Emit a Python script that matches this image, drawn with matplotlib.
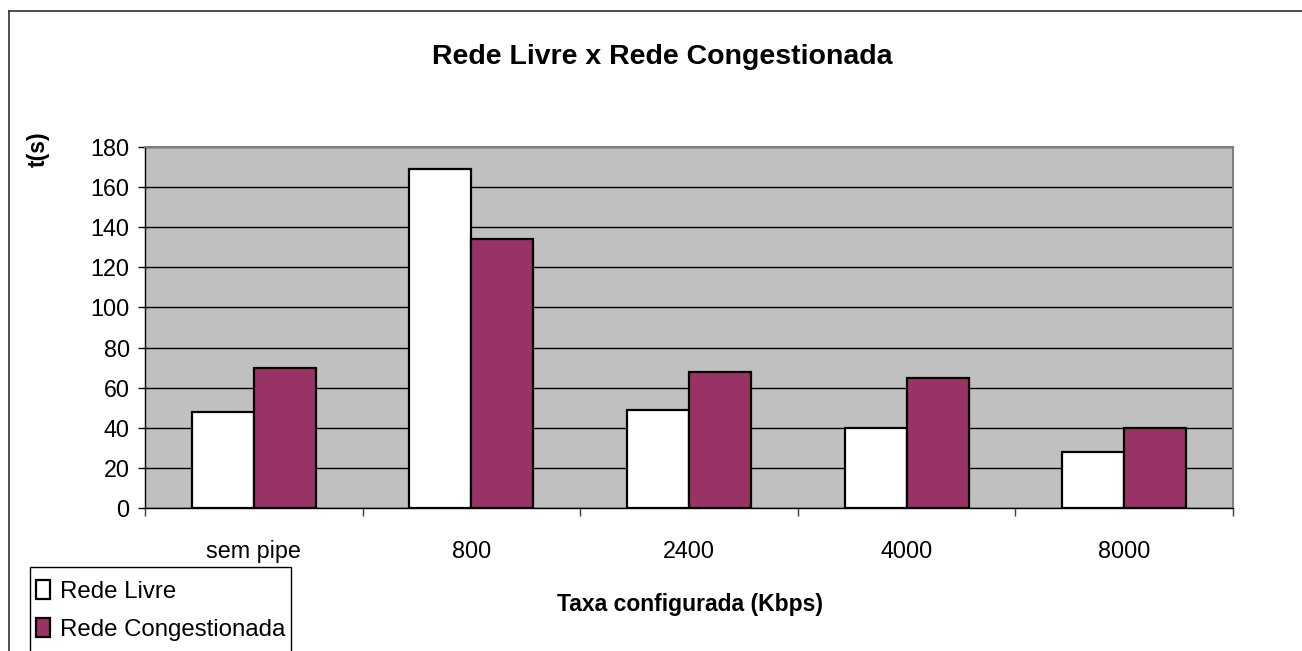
import numpy as np
import matplotlib
matplotlib.use('Agg')
import matplotlib.pyplot as plt
from matplotlib.lines import Line2D
from matplotlib.patches import Rectangle

plt.rcParams['font.family'] = ['Liberation Sans', 'DejaVu Sans']

categorias = ['sem pipe', '800', '2400', '4000', '8000']
rede_livre = [48, 169, 49, 40, 28]
rede_congestionada = [70, 134, 68, 65, 40]
yticks = [0, 20, 40, 60, 80, 100, 120, 140, 160, 180]

W, H = 1302, 651
fig = plt.figure(figsize=(W / 100, H / 100), dpi=100)
ax = fig.add_axes([145 / W, 1 - 508 / H, 1088 / W, 361 / H])
ax.set_facecolor('#C0C0C0')

x = np.arange(len(categorias))
w = 0.285
b1 = ax.bar(x - w / 2, rede_livre, w, color='white', edgecolor='black',
            linewidth=1.6, label='Rede Livre', zorder=3)
b2 = ax.bar(x + w / 2, rede_congestionada, w, color='#993366', edgecolor='black',
            linewidth=1.6, label='Rede Congestionada', zorder=3)

ax.set_xlim(-0.5, len(categorias) - 0.5)
ax.set_ylim(0, 180)
ax.set_yticks(yticks)
ax.yaxis.grid(True, color='black', linewidth=1)
ax.set_axisbelow(True)

ax.set_xticks(x)
ax.set_xticklabels(categorias)
ax.set_xticks(np.arange(-0.5, len(categorias)), minor=True)
ax.tick_params(axis='x', which='major', length=0, pad=23, labelsize=16.8)
ax.tick_params(axis='x', which='minor', length=6, width=1, color='#404040')
ax.tick_params(axis='y', length=5, width=1, pad=6, labelsize=16.8)

for s in ['top', 'right']:
    ax.spines[s].set_color('#808080')
    ax.spines[s].set_linewidth(1.5)
for s in ['left', 'bottom']:
    ax.spines[s].set_color('black')
    ax.spines[s].set_linewidth(1)

fig.text(662 / W, 1 - 57 / H, 'Rede Livre x Rede Congestionada',
         ha='center', va='center', fontsize=20.5, fontweight='bold')
fig.text(38 / W, 1 - 149 / H, 't(s)', rotation=90, ha='center',
         va='center', fontsize=16.5, fontweight='bold')
fig.text(690 / W, 1 - 605 / H, 'Taxa configurada (Kbps)',
         ha='center', va='center', fontsize=16.5, fontweight='bold')

# legenda (caixa desenhada à parte, sai pela borda de baixo)
leg = fig.legend(handles=[b1, b2], loc='upper left',
                 bbox_to_anchor=(36 / W, 1 - 580 / H),
                 fontsize=17.3, frameon=False,
                 handlelength=0.6, handleheight=0.85, handletextpad=0.4,
                 borderpad=0, labelspacing=0.62, borderaxespad=0)
fig.add_artist(Rectangle((30 / W, -0.02), (291 - 30) / W, 1 - 567 / H + 0.02,
                         transform=fig.transFigure, facecolor='none',
                         edgecolor='black', linewidth=1))

# moldura do gráfico
fig.add_artist(Line2D([9 / W, 9 / W], [0, 1 - 11 / H],
                      transform=fig.transFigure, color='#303030', linewidth=1.2))
fig.add_artist(Line2D([9 / W, 1], [1 - 11 / H, 1 - 11 / H],
                      transform=fig.transFigure, color='#303030', linewidth=1.2))

fig.savefig('out.png', dpi=100)
